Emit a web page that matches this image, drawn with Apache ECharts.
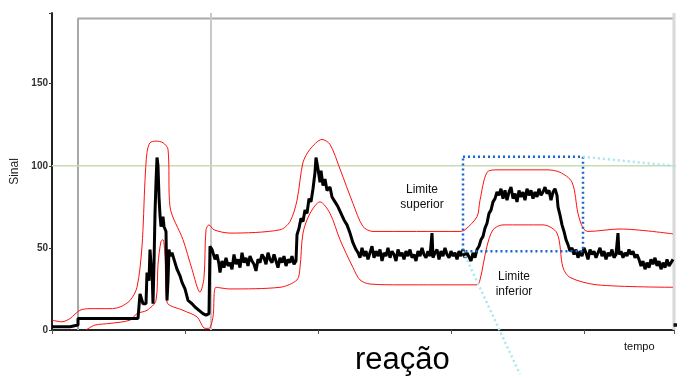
<!DOCTYPE html>
<html>
<head>
<meta charset="utf-8">
<script src="https://cdn.jsdelivr.net/npm/echarts@6/dist/echarts.min.js"></script>
<style>
  html, body { margin: 0; padding: 0; background: #fff; }
  #chart { width: 691px; height: 379px; }
</style>
</head>
<body>
<div id="chart"></div>
<script>
// sinal medido (tempo, sinal)
const sinal = [
  [0, 2], [18, 2], [18, 3], [26, 3], [26, 7], [40, 7], [41, 6], [42, 7], [86, 7],
  [88, 22], [90, 22], [91, 16], [94, 16], [95, 35], [97, 30], [98, 49], [99, 40],
  [100, 37], [101, 16], [102, 40], [103, 71], [104, 90], [105, 105], [106, 100],
  [107, 81], [108, 70], [109, 63], [110, 65], [111, 69], [112, 63], [114, 60],
  [115, 18], [116, 30], [117, 49], [118, 45], [120, 47], [122, 43], [125, 37],
  [128, 33], [130, 29], [133, 25], [136, 18], [140, 16], [143, 14], [147, 12],
  [151, 10], [154, 9], [156, 9], [157, 10], [158, 51], [160, 49], [162, 45],
  [163, 43], [165, 46], [167, 40], [168, 35], [170, 42], [172, 38], [174, 44],
  [176, 39], [178, 41], [180, 37], [182, 46], [184, 40], [186, 43], [188, 38],
  [190, 47], [192, 41], [194, 44], [196, 39], [198, 45], [200, 42], [202, 40],
  [204, 36], [206, 43], [208, 41], [210, 46], [212, 44], [214, 40], [216, 47],
  [218, 43], [220, 41], [222, 46], [224, 42], [226, 38], [228, 44], [230, 41],
  [232, 45], [234, 39], [236, 43], [238, 41], [240, 45], [242, 40], [244, 42],
  [245, 58], [247, 62], [249, 68], [251, 66], [253, 73], [255, 71], [257, 80],
  [259, 78], [261, 86], [263, 96], [264, 105], [266, 98], [268, 90], [269, 97],
  [271, 88], [273, 92], [275, 85], [278, 87], [280, 81], [283, 78], [286, 75],
  [289, 71], [292, 67], [295, 64], [298, 59], [301, 53], [304, 49], [306, 47],
  [308, 44], [310, 50], [312, 45], [314, 48], [316, 43], [318, 47], [320, 51],
  [322, 44], [324, 48], [326, 45], [328, 49], [330, 42], [332, 47], [334, 45],
  [336, 50], [338, 44], [340, 48], [342, 46], [344, 42], [346, 49], [348, 45],
  [350, 47], [352, 43], [354, 48], [356, 45], [358, 49], [360, 44], [362, 46],
  [364, 42], [366, 48], [368, 45], [370, 50], [372, 46], [374, 44], [376, 48],
  [378, 45], [380, 59], [381, 44], [383, 47], [385, 49], [387, 43], [389, 48],
  [391, 45], [393, 50], [395, 46], [397, 44], [399, 48], [401, 45], [403, 47],
  [405, 43], [407, 48], [409, 45], [411, 49], [413, 44], [415, 47], [417, 46],
  [419, 42], [421, 47], [423, 44], [425, 49], [427, 51], [429, 55], [431, 57],
  [433, 62], [435, 65], [437, 71], [439, 73], [441, 78], [443, 80], [445, 84],
  [447, 82], [449, 86], [451, 80], [453, 85], [455, 79], [457, 84], [459, 87],
  [461, 80], [463, 83], [465, 78], [467, 85], [469, 81], [471, 84], [473, 79],
  [475, 86], [477, 82], [479, 85], [481, 80], [483, 84], [485, 81], [487, 86],
  [489, 82], [491, 84], [493, 87], [495, 83], [497, 85], [499, 79], [501, 84],
  [503, 86], [505, 82], [506, 75], [508, 70], [510, 64], [512, 60], [514, 55],
  [516, 52], [518, 48], [520, 50], [522, 46], [524, 49], [526, 44], [528, 48],
  [530, 45], [532, 50], [534, 47], [536, 43], [538, 49], [540, 46], [542, 48],
  [544, 44], [546, 47], [548, 50], [550, 45], [552, 48], [554, 43], [556, 47],
  [558, 45], [560, 49], [562, 44], [564, 46], [566, 59], [567, 46], [569, 48],
  [571, 44], [573, 47], [575, 45], [577, 49], [579, 46], [581, 48], [583, 44],
  [585, 46], [587, 43], [589, 39], [591, 42], [593, 37], [595, 41], [597, 38],
  [599, 43], [601, 40], [603, 44], [605, 39], [607, 42], [609, 37], [611, 41],
  [613, 38], [615, 43], [617, 39], [619, 41], [621, 43]
];

// limite superior
const limiteSuperior = [
  [0, 6], [10, 5], [18, 7], [28, 12], [38, 13], [58, 13], [68, 14], [78, 18],
  [85, 26], [90, 51], [93, 91], [95, 108], [98, 114], [104, 115], [111, 114],
  [116, 110], [118, 75], [131, 55], [140, 37], [148, 23], [152, 32], [154, 61],
  [157, 64], [162, 61], [178, 59], [228, 61], [238, 66], [245, 79], [251, 102],
  [258, 110], [270, 116], [278, 113], [288, 98], [301, 77], [311, 63], [321, 60],
  [408, 60], [413, 61], [425, 69], [428, 79], [435, 96], [445, 97.5], [495, 97.5],
  [508, 96], [520, 90], [526, 71], [531, 62], [536, 60], [568, 61.5], [621, 58.5]
];

// limite inferior
const limiteInferior = [
  [34, 0], [43, 3], [58, 4], [78, 6], [85, 10], [95, 12], [104, 18], [106, 40],
  [109, 54], [111, 55], [113, 45], [115, 17], [131, 12], [145, 8], [153, 1],
  [157, 1], [161, 8], [164, 26], [178, 25], [228, 26], [245, 30.5], [248, 38],
  [251, 59], [258, 71], [268, 78], [278, 71], [288, 55], [301, 38], [308, 30.5],
  [318, 28], [348, 27.5], [425, 27.5], [428, 30.5], [435, 51], [441, 61],
  [451, 64], [491, 64], [505, 59], [511, 38], [518, 32], [545, 27.5], [621, 26]
];

// referencia em 100, janela destacada e linhas de zoom
const linhaRef = [[0, 100], [639, 100]];
const janela = [[411, 105.5], [531, 105.5], [531, 48], [411, 48], [411, 105.5]];
const zoomSup = [[531, 105.5], [639, 98.8]];
const zoomInf = [[411, 48], [468, -27]];
const moldura = [[26, 0], [26, 189.6], [622, 189.6]];
const bordaDireita = [[622, 0], [622, 193]];
const divisoria = [[159, 0], [159, 193]];
const restoSinal = [[621.5, 3], [630, 3], [640, 3]];

const yTicks = [0, 50, 100, 150];

const chart = echarts.init(document.getElementById('chart'));

const plain = { type: 'line', symbol: 'none', silent: true, animation: false };

chart.setOption({
  backgroundColor: '#fff',
  animation: false,
  grid: { left: 52, right: 17, top: 13, bottom: 49 },
  xAxis: {
    type: 'value',
    min: 0,
    max: 622,
    interval: 133,
    axisLine: { lineStyle: { color: '#222', width: 2 } },
    axisTick: { show: true, length: 4, lineStyle: { color: '#555' } },
    axisLabel: { show: false },
    splitLine: { show: false }
  },
  yAxis: {
    type: 'value',
    min: 0,
    max: 193,
    interval: 50,
    name: 'Sinal',
    nameLocation: 'middle',
    nameGap: 28,
    nameTextStyle: { fontFamily: 'Arial, Liberation Sans', fontSize: 12, color: '#222' },
    axisLine: { show: true, lineStyle: { color: '#222', width: 2 } },
    axisTick: { show: true, length: 3, lineStyle: { color: '#333' } },
    axisLabel: {
      fontFamily: 'Arial, Liberation Sans',
      fontSize: 10,
      fontWeight: 'bold',
      color: '#333',
      margin: 4,
      formatter: v => (yTicks.includes(v) ? String(v) : '')
    },
    splitLine: { show: false }
  },
  series: [
    Object.assign({}, plain, {
      data: moldura,
      lineStyle: { color: '#a8a8a8', width: 2 }
    }),
    Object.assign({}, plain, {
      data: bordaDireita,
      lineStyle: { color: '#d8d8d8', width: 3 }
    }),
    Object.assign({}, plain, {
      data: divisoria,
      lineStyle: { color: '#c8c8c8', width: 2 }
    }),
    Object.assign({}, plain, {
      data: linhaRef,
      clip: false,
      lineStyle: { color: '#c6dbb6', width: 1.5 }
    }),
    Object.assign({}, plain, {
      data: limiteSuperior,
      smooth: 0.3,
      lineStyle: { color: '#ff1010', width: 1 }
    }),
    Object.assign({}, plain, {
      data: limiteInferior,
      smooth: 0.3,
      lineStyle: { color: '#ff1010', width: 1 }
    }),
    Object.assign({}, plain, {
      data: sinal,
      lineStyle: { color: '#000', width: 3 }
    }),
    Object.assign({}, plain, {
      data: restoSinal,
      clip: false,
      lineStyle: { color: '#111', width: 3.5 }
    }),
    Object.assign({}, plain, {
      data: janela,
      lineStyle: { color: '#1a66cc', width: 2.5, type: [2, 3] }
    }),
    Object.assign({}, plain, {
      data: zoomSup,
      clip: false,
      lineStyle: { color: '#a8e6f0', width: 2.5, type: [2, 3] }
    }),
    Object.assign({}, plain, {
      data: zoomInf,
      clip: false,
      lineStyle: { color: '#a8e6f0', width: 2.5, type: [2, 3] }
    })
  ],
  graphic: [
    {
      type: 'text', x: 422, y: 182,
      style: {
        text: 'Limite\nsuperior', font: '12px Arial, Liberation Sans',
        fill: '#111', align: 'center', lineHeight: 15
      }
    },
    {
      type: 'text', x: 514, y: 269,
      style: {
        text: 'Limite\ninferior', font: '12px Arial, Liberation Sans',
        fill: '#111', align: 'center', lineHeight: 15
      }
    },
    {
      type: 'text', left: 624, top: 341,
      style: { text: 'tempo', font: '11px Arial, Liberation Sans', fill: '#111' }
    },
    {
      type: 'text', left: 355, top: 345,
      style: { text: 'reação', font: '31px Arial, Liberation Sans', fill: '#000' }
    }
  ]
});
</script>
</body>
</html>
